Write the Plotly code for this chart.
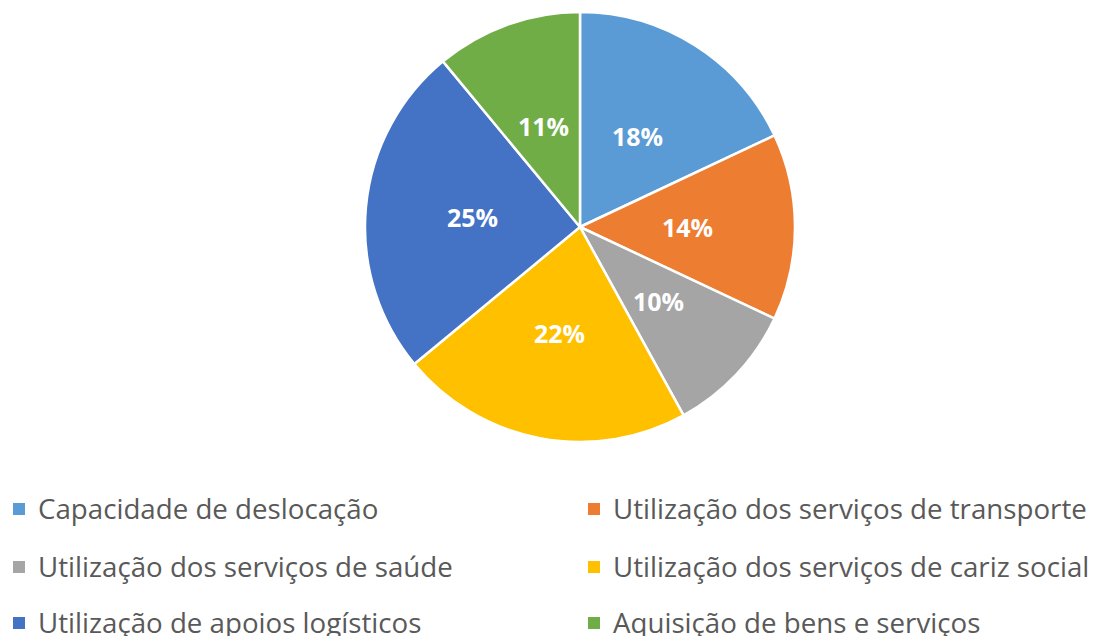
import math
import plotly.graph_objects as go

labels = [
    "Capacidade de deslocação",
    "Utilização dos serviços de transporte",
    "Utilização dos serviços de saúde",
    "Utilização dos serviços de cariz social",
    "Utilização de apoios logísticos",
    "Aquisição de bens e serviços",
]
values = [18, 14, 10, 22, 25, 11]
colors = ["#5B9BD5", "#ED7D31", "#A5A5A5", "#FFC000", "#4472C4", "#70AD47"]

# page body has an 8px margin; work in screen pixels and convert
OFF = 8
W, H = 1096 - OFF, 636 - OFF
cx, cy, R = 580 - OFF, 227 - OFF, 215


def py(y):
    return 1 - y / H


fig = go.Figure(go.Pie(
    labels=labels,
    values=values,
    sort=False,
    direction="clockwise",
    rotation=0,
    marker=dict(colors=colors, line=dict(color="white", width=2.5)),
    textinfo="none",
    domain=dict(x=[(cx - R) / W, (cx + R) / W], y=[py(cy + R), py(cy - R)]),
    showlegend=False,
    hoverinfo="label+percent",
))

# percentage labels at half radius, mid-angle of each slice (from the data)
total = sum(values)
cum = 0
for v in values:
    mid = (cum + v / 2) / total * 2 * math.pi
    cum += v
    lx = cx + 0.5 * R * math.sin(mid)
    ly = cy - 0.5 * R * math.cos(mid)
    fig.add_annotation(xref="paper", yref="paper", x=lx / W, y=py(ly),
                       xanchor="center", yanchor="middle", showarrow=False,
                       text=f"<b>{round(v / total * 100)}%</b>",
                       font=dict(family="Open Sans", size=25, color="white"))

# Manual two-column legend
col_x = [13 - OFF, 588 - OFF]
row_y = [509 - OFF, 567 - OFF, 623 - OFF]
for i, (lab, col) in enumerate(zip(labels, colors)):
    r, c = divmod(i, 2)
    x0 = col_x[c]
    y0 = row_y[r]
    fig.add_shape(type="rect", xref="paper", yref="paper",
                  x0=x0 / W, x1=(x0 + 12) / W,
                  y0=py(y0 + 6), y1=py(y0 - 6),
                  fillcolor=col, line=dict(width=0))
    fig.add_annotation(xref="paper", yref="paper",
                       x=(x0 + 23) / W, y=py(y0 - 1),
                       xanchor="left", yanchor="middle",
                       text=lab, showarrow=False,
                       font=dict(family="Open Sans", size=27.7, color="#595959"))

fig.update_layout(
    width=W, height=H,
    margin=dict(l=0, r=0, t=0, b=0),
    paper_bgcolor="white",
    plot_bgcolor="white",
)

fig.write_html("out.html")
